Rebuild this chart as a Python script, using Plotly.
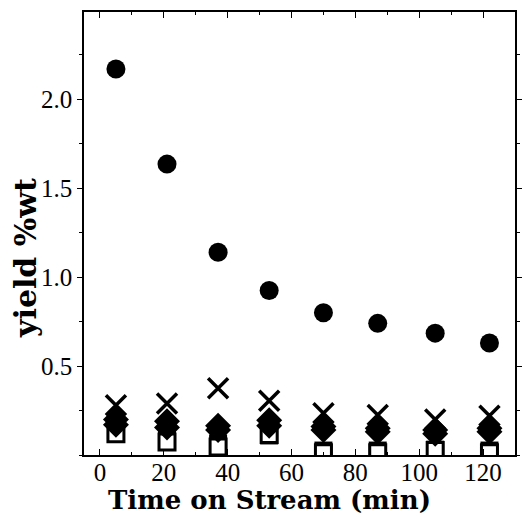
import plotly.graph_objects as go

time_min = [5, 21, 37, 53, 70, 87, 105, 122]
circles = [2.17, 1.635, 1.14, 0.925, 0.80, 0.74, 0.685, 0.63]
crosses = [0.28, 0.29, 0.375, 0.305, 0.235, 0.225, 0.20, 0.22]
diamonds = [0.20, 0.19, 0.165, 0.195, 0.16, 0.15, 0.14, 0.15]
diamonds2 = [0.17, 0.155, 0.14, 0.165, 0.14, 0.13, 0.12, 0.13]
filled_squares = [0.14, 0.09, 0.065, 0.11, 0.025, 0.025, 0.03, 0.025]
open_squares = [0.12, 0.073, 0.045, 0.115, 0.012, 0.012, 0.025, 0.012]

x_ticks = [0, 20, 40, 60, 80, 100, 120]
y_ticks = [0.5, 1.0, 1.5, 2.0]
y_ticklabels = ["0.5", "1.0", "1.5", "2.0"]
x_title = "Time on Stream (min)"
y_title = "yield %wt"

fig = go.Figure()

def add(y, symbol, size, fill="black", lw=0):
    fig.add_trace(go.Scatter(
        x=time_min, y=y, mode="markers",
        marker=dict(symbol=symbol, size=size, color=fill,
                    line=dict(color="black", width=lw)),
        showlegend=False, cliponaxis=True))

add(filled_squares, "square", 18)
add(open_squares, "square", 16, fill="white", lw=3)
add(diamonds2, "diamond", 20)
add(diamonds, "diamond", 20)
add(crosses, "x-thin", 20, lw=3.5)
add(circles, "circle", 19)

font = "Liberation Serif"
tfont = "DejaVu Serif"

fig.update_layout(
    width=527, height=520,
    margin=dict(l=84, r=5, t=12, b=65),
    plot_bgcolor="white", paper_bgcolor="white",
    font=dict(family=font, color="black", size=25),
    xaxis=dict(
        range=[-5, 130], tickvals=x_ticks, ticks="inside", ticklen=6,
        tickwidth=1, tickcolor="black", mirror="ticks", showline=True,
        linecolor="black", linewidth=1.5, showgrid=False, zeroline=False,
        tickfont=dict(family=font, size=25), ticklabelstandoff=-6,
        minor=dict(dtick=10, tick0=0, ticks="inside", ticklen=3, tickcolor="black", showgrid=False),
    ),
    yaxis=dict(
        range=[0, 2.49], tickvals=y_ticks, ticktext=y_ticklabels, ticks="outside", ticklen=5,
        tickwidth=1, tickcolor="black", mirror="ticks", showline=True,
        linecolor="black", linewidth=1.5, showgrid=False, zeroline=False,
        tickfont=dict(family=font, size=25),
        minor=dict(dtick=0.25, tick0=0, ticks="outside", ticklen=3, tickcolor="black", showgrid=False),
    ),
    annotations=[
        dict(text=f"<b>{x_title}</b>", xref="paper", yref="paper", x=0.4315, y=-0.1016,
             xanchor="center", yanchor="middle", showarrow=False,
             font=dict(family=tfont, size=26, color="black")),
        dict(text=f"<b>{y_title}</b>", xref="paper", yref="paper", x=-0.1347, y=0.4447,
             xanchor="center", yanchor="middle", showarrow=False, textangle=-90,
             font=dict(family=tfont, size=30, color="black")),
    ],
)

fig.write_html("out.html")
